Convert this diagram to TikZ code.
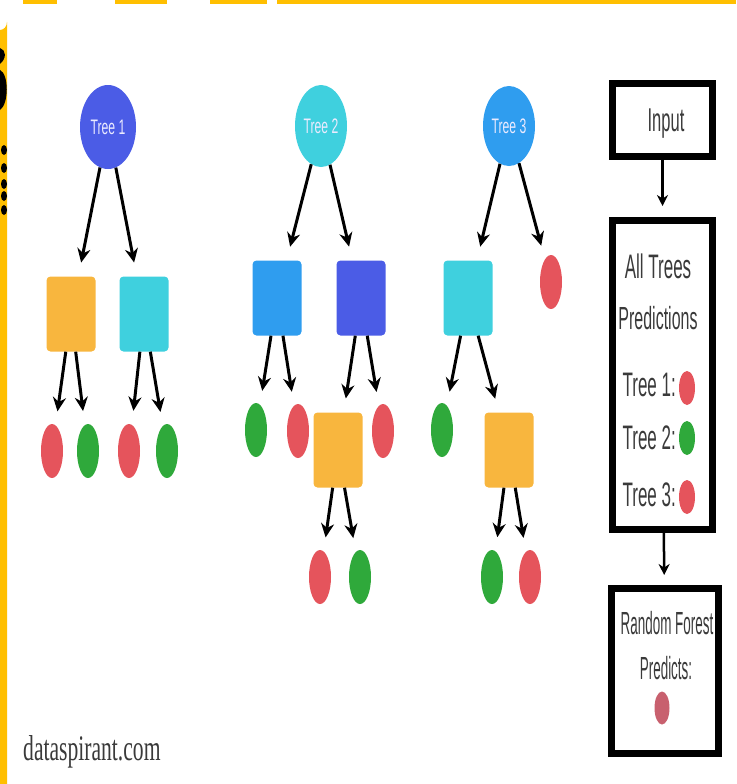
\documentclass[tikz,border=0pt]{standalone}
\usepackage{fontspec}
\setmainfont{Liberation Sans}
\newfontfamily\narrow[FakeStretch=0.5]{Liberation Sans}
\newfontfamily\slimfont[FakeStretch=0.42]{Liberation Sans}
\newfontfamily\rootfont[FakeStretch=0.58]{Liberation Sans}
\newfontfamily\narrowserif[FakeStretch=0.6]{Liberation Serif}
\usetikzlibrary{positioning,shapes.geometric,arrows.meta}
\definecolor{barYellow}{HTML}{FFBF00}
\definecolor{treeIndigo}{HTML}{4B5CE6}
\definecolor{treeCyan}{HTML}{3FD0DE}
\definecolor{treeAzure}{HTML}{2F9DEF}
\definecolor{splitOrange}{HTML}{F8B63E}
\definecolor{leafRed}{HTML}{E5545C}
\definecolor{leafGreen}{HTML}{2FA93B}
\definecolor{votePink}{HTML}{C8606E}
\definecolor{textGray}{HTML}{3A3A3A}
\tikzstyle{root} = [ellipse, inner sep=0pt, text=white!92!blue, font=\rootfont\fontsize{21}{21}\selectfont]
\tikzstyle{split} = [rectangle, rounded corners=4pt, minimum width=49pt, minimum height=75pt]
\tikzstyle{leaf} = [ellipse, inner sep=0pt, minimum width=22pt, minimum height=54pt]
\tikzstyle{arr} = [-{Stealth[length=14pt,width=13pt]}, line width=3pt, shorten >=14pt]
\tikzstyle{box} = [draw, line width=7pt, minimum width=100pt, inner sep=0pt]
\tikzstyle{label} = [text=textGray, inner sep=0pt, font=\narrow\fontsize{34}{34}\selectfont]
\tikzstyle{small label} = [text=textGray, inner sep=0pt, font=\slimfont\fontsize{32}{32}\selectfont]
\tikzstyle{dot} = [ellipse, inner sep=0pt, minimum width=16pt, minimum height=34pt]

\begin{document}
\begin{tikzpicture}[x=1pt, y=-1pt]
    \useasboundingbox (0,0) rectangle (736,784);
    % frame pieces
    \fill[barYellow] (0,30) arc (90:0:7 and 8) -- (7,784) -- (0,784) -- cycle;
    \fill[black] (0,48) .. controls (6,50) and (7,58) .. (0,64) -- cycle;
    \fill[black] (0,70) .. controls (9,74) and (9,104) .. (0,110) -- cycle;
    \foreach \yy in {150,168,184,196,210} \fill[black] (4,\yy) ellipse (3 and 5);
    \foreach \xa/\xb in {23/57,115/167,210/267,277/736} \fill[barYellow] (\xa,0) rectangle (\xb,4);

    % tree 1
    \node[root, fill=treeIndigo, minimum width=56pt, minimum height=84pt] (r1) at (108,127) {Tree 1};
    \node[split, fill=splitOrange] (a1) at (71,314) {};
    \node[split, fill=treeCyan] (b1) at (144,314) {};
    \node[leaf, fill=leafRed] (a1l) at (52,451) {};
    \node[leaf, fill=leafGreen] (a1r) at (88,451) {};
    \node[leaf, fill=leafRed] (b1l) at (129,451) {};
    \node[leaf, fill=leafGreen] (b1r) at (167,451) {};
    \draw[arr] (r1) -- (a1);
    \draw[arr] (r1) -- (b1);
    \draw[arr] (a1) -- (a1l);
    \draw[arr] (a1) -- (a1r);
    \draw[arr] (b1) -- (b1l);
    \draw[arr] (b1) -- (b1r);

    % tree 2
    \node[root, fill=treeCyan, minimum width=52pt, minimum height=82pt] (r2) at (321,126) {Tree 2};
    \node[split, fill=treeAzure] (a2) at (277,298) {};
    \node[split, fill=treeIndigo] (b2) at (361,298) {};
    \node[leaf, fill=leafGreen] (a2l) at (256,430) {};
    \node[leaf, fill=leafRed] (a2r) at (298,431) {};
    \node[split, fill=splitOrange] (c2) at (338,450) {};
    \node[leaf, fill=leafRed] (b2r) at (383,431) {};
    \node[leaf, fill=leafRed] (c2l) at (320,577) {};
    \node[leaf, fill=leafGreen] (c2r) at (360,577) {};
    \draw[arr] (r2) -- (a2);
    \draw[arr] (r2) -- (b2);
    \draw[arr] (a2) -- (a2l);
    \draw[arr] (a2) -- (a2r);
    \draw[arr] (b2) -- (c2);
    \draw[arr] (b2) -- (b2r);
    \draw[arr] (c2) -- (c2l);
    \draw[arr] (c2) -- (c2r);

    % tree 3
    \node[root, fill=treeAzure, minimum width=52pt, minimum height=80pt] (r3) at (509,126) {Tree 3};
    \node[split, fill=treeCyan] (a3) at (468,298) {};
    \node[leaf, fill=leafRed] (b3) at (551,282) {};
    \node[leaf, fill=leafGreen] (a3l) at (442,430) {};
    \node[split, fill=splitOrange] (c3) at (509,450) {};
    \node[leaf, fill=leafGreen] (c3l) at (492,577) {};
    \node[leaf, fill=leafRed] (c3r) at (530,577) {};
    \draw[arr] (r3) -- (a3);
    \draw[arr] (r3) -- (b3);
    \draw[arr] (a3) -- (a3l);
    \draw[arr] (a3) -- (c3);
    \draw[arr] (c3) -- (c3l);
    \draw[arr] (c3) -- (c3r);

    % voting column
    \node[box, minimum height=73pt] (inp) at (662.5,120) {};
    \node[box, minimum height=309pt] (all) at (662.5,375) {};
    \node[box, minimum width=107pt, minimum height=165pt] (rf) at (665,671) {};
    \draw[arr, -{Stealth[length=11pt,width=11pt]}, line width=2.5pt, shorten >=11pt] (inp) -- (all);
    \draw[arr, -{Stealth[length=11pt,width=11pt]}, line width=2.5pt, shorten >=10pt] (all) -- (rf);
    \node[label, font=\narrow\fontsize{33}{33}\selectfont] (inptxt) at (666,124) {Input};
    \node[label] (alltxt) at (658,266) {All Trees};
    \node[label, font=\narrow\fontsize{32}{32}\selectfont] (predtxt) at (658,318) {Predictions};
    \node[label, anchor=east] (v1) at (676,385) {Tree 1:};
    \node[label, anchor=east] (v2) at (676,438) {Tree 2:};
    \node[label, anchor=east] (v3) at (676,495) {Tree 3:};
    \node[dot, fill=leafRed] (d1) at (687,388) {};
    \node[dot, fill=leafGreen] (d2) at (687,438) {};
    \node[dot, fill=leafRed] (d3) at (687,497) {};
    \node[small label] (rftxt) at (667,623) {Random Forest};
    \node[small label] (predicts) at (666,668) {Predicts:};
    \node[dot, fill=votePink, minimum width=15pt, minimum height=33pt] (vote) at (662,708) {};

    \node[text=textGray, anchor=west, inner sep=0pt, font=\narrowserif\fontsize{36}{36}\selectfont] (site) at (23,752) {dataspirant.com};
\end{tikzpicture}
\end{document}
